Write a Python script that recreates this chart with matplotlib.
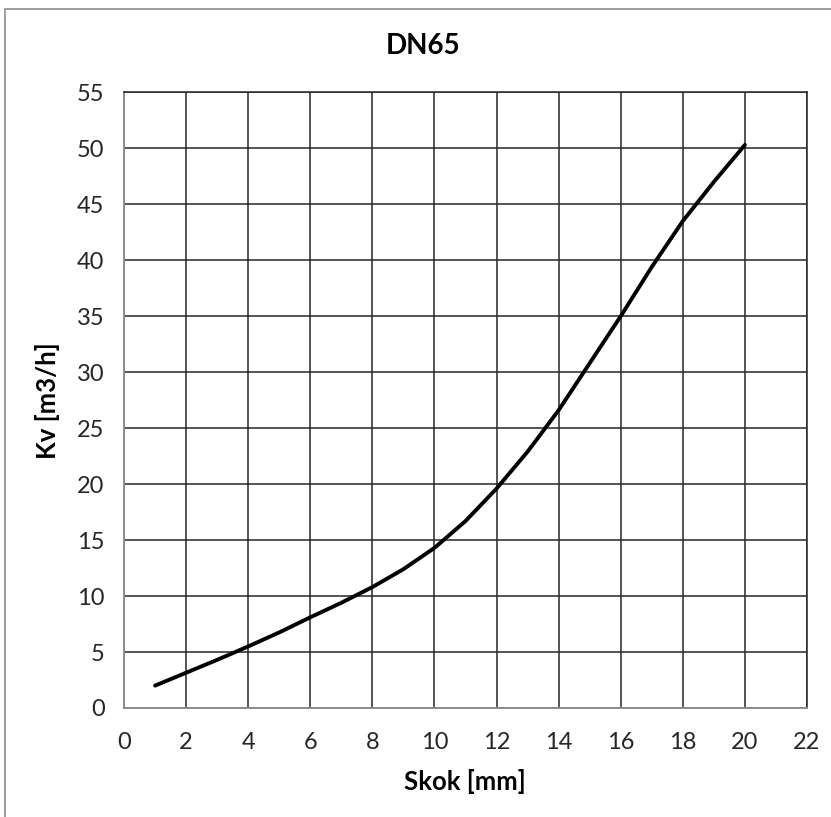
import matplotlib
matplotlib.use("Agg")
import matplotlib.pyplot as plt
from matplotlib.patches import Rectangle

stroke_mm = [1, 2, 3, 4, 5, 6, 7, 8, 9, 10, 11, 12, 13, 14, 15, 16, 17, 18, 19, 20]
kv_m3h = [2.0, 3.15, 4.3, 5.5, 6.75, 8.1, 9.4, 10.8, 12.4, 14.3, 16.7, 19.6,
          22.9, 26.6, 30.8, 35.0, 39.4, 43.5, 47.0, 50.3]
x_ticks = list(range(0, 23, 2))
y_ticks = list(range(0, 56, 5))

plt.rcParams['font.family'] = ['Lato', 'DejaVu Sans']

W, H = 831, 817
fig = plt.figure(figsize=(W / 100, H / 100), dpi=100)
fig.patches.append(Rectangle((5 / W, -0.1), 1.2, 1.0 - 9 / H + 0.1,
                             transform=fig.transFigure, fill=False,
                             edgecolor='#8c8c8c', linewidth=1.2))

left, right, top, bottom = 124, 807, 92.3, 708
ax = fig.add_axes([left / W, 1 - bottom / H, (right - left) / W, (bottom - top) / H])

ax.plot(stroke_mm, kv_m3h, color='black', linewidth=2.8,
        solid_capstyle='round', solid_joinstyle='round')
ax.set_xlim(0, 22)
ax.set_ylim(0, 55)
ax.set_xticks(x_ticks)
ax.set_yticks(y_ticks)
ax.grid(True, color='#262626', linewidth=1.1)
ax.set_axisbelow(True)
ax.tick_params(length=0, labelsize=17, colors='#262626')
ax.tick_params(axis='x', pad=17)
ax.tick_params(axis='y', pad=14)
for s in ['left', 'bottom']:
    ax.spines[s].set_color('#8c8c8c')
    ax.spines[s].set_linewidth(1.4)
for s in ['top', 'right']:
    ax.spines[s].set_color('#262626')
    ax.spines[s].set_linewidth(1.1)

fig.text(423 / W, 1 - 46 / H, 'DN65', ha='center', va='center',
         fontsize=20, fontweight='bold', color='black')
fig.text(465 / W, 1 - 781 / H, 'Skok [mm]', ha='center', va='center',
         fontsize=18.5, fontweight='bold', color='black')
fig.text(47 / W, 1 - 401 / H, 'Kv [m3/h]', ha='center', va='center',
         rotation=90, fontsize=18.5, fontweight='bold', color='black')

fig.savefig('out.png', dpi=100)
